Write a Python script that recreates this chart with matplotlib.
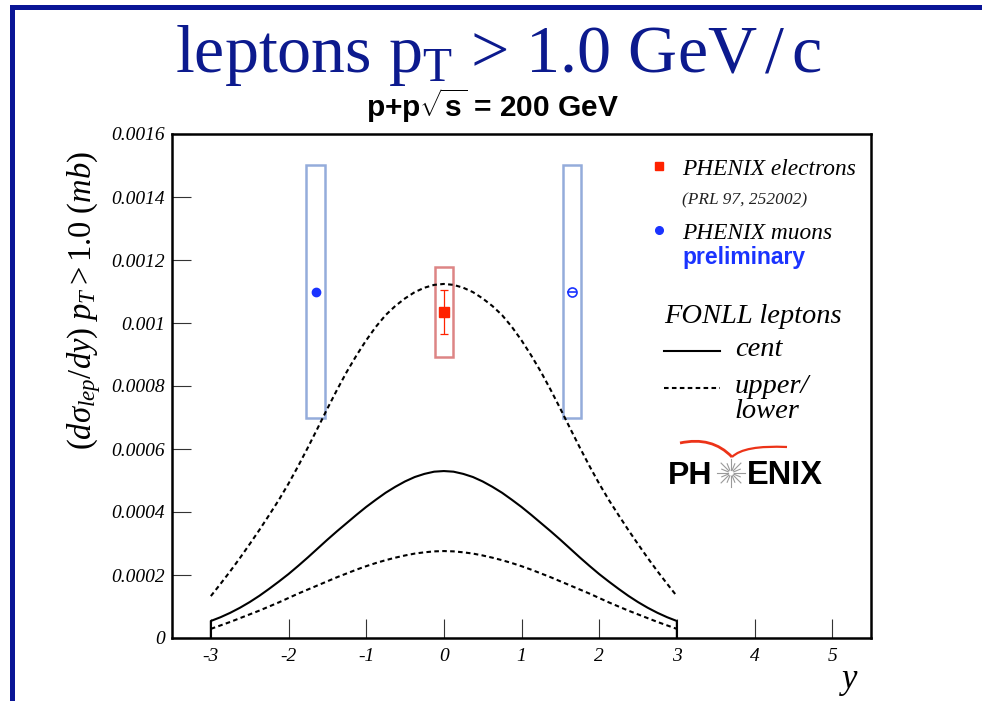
import numpy as np
import matplotlib
matplotlib.use("Agg")
import matplotlib.pyplot as plt
from matplotlib.patches import Rectangle, PathPatch
from matplotlib.path import Path
from matplotlib.lines import Line2D

plt.rcParams['mathtext.fontset'] = 'custom'
plt.rcParams['mathtext.rm'] = 'Liberation Serif'
plt.rcParams['mathtext.it'] = 'Liberation Serif:italic'
plt.rcParams['mathtext.bf'] = 'Liberation Sans:bold'

SERIF = 'Liberation Serif'
SANS = 'Liberation Sans'
TITLE_BLUE = '#0c1a8e'

# FONLL lepton curves, d(sigma)/dy in units of 1e-6 mb, vs rapidity
rap = [-3.0, -2.875, -2.75, -2.625, -2.5, -2.375, -2.25, -2.125, -2.0, -1.875, -1.75, -1.625,
       -1.5, -1.375, -1.25, -1.125, -1.0, -0.875, -0.75, -0.625, -0.5, -0.375, -0.25, -0.125,
       0.0, 0.125, 0.25, 0.375, 0.5, 0.625, 0.75, 0.875, 1.0, 1.125, 1.25, 1.375,
       1.5, 1.625, 1.75, 1.875, 2.0, 2.125, 2.25, 2.375, 2.5, 2.625, 2.75, 2.875, 3.0]
fonll_cent = [54, 66, 80, 96, 114, 134, 156, 179, 203, 229, 256, 284,
              312, 339, 365, 391, 416, 439, 461, 480, 497, 511, 521, 528,
              530, 528, 521, 511, 497, 480, 461, 439, 416, 391, 365, 339,
              312, 284, 256, 229, 203, 179, 156, 134, 114, 96, 80, 66, 54]
fonll_upper = [133, 172, 212, 254, 298, 343, 390, 438, 490, 546, 605, 666,
               728, 788, 845, 897, 945, 988, 1025, 1054, 1078, 1098, 1112, 1121,
               1124, 1121, 1112, 1098, 1078, 1054, 1025, 988, 945, 897, 845, 788,
               728, 666, 605, 546, 490, 438, 390, 343, 298, 254, 212, 172, 133]
fonll_lower = [29, 40, 51, 63, 75, 87, 100, 113, 127, 141, 154, 167,
               180, 193, 205, 217, 228, 238, 247, 255, 262, 268, 272, 275,
               276, 275, 272, 268, 262, 255, 247, 238, 228, 217, 205, 193,
               180, 167, 154, 141, 127, 113, 100, 87, 75, 63, 51, 40, 29]

# PHENIX electrons (mid rapidity)
ele_y = 0.0
ele_val = 0.001036
ele_stat = 0.00007
ele_sys_lo = 0.000891
ele_sys_hi = 0.001179

# PHENIX muons (forward / backward)
mu_y = [-1.65, 1.65]
mu_val = [0.00110, 0.00110]
mu_stat = [0.000006, 0.000006]
mu_sys_lo = [0.000697, 0.000697]
mu_sys_hi = [0.001502, 0.001502]
box_half = 0.12

x_ticks = [-3, -2, -1, 0, 1, 2, 3, 4, 5]
x_labels = ['-3', '-2', '-1', '0', '1', '2', '3', '4', '5']
y_ticks = [0, 0.0002, 0.0004, 0.0006, 0.0008, 0.001, 0.0012, 0.0014, 0.0016]
y_labels = ['0', '0.0002', '0.0004', '0.0006', '0.0008', '0.001', '0.0012', '0.0014', '0.0016']

W, H = 982, 701


def fx(px):
    return px / W


def fy(py):
    return 1 - py / H


fig = plt.figure(figsize=(W / 100, H / 100), dpi=100)
fig.patch.set_facecolor('white')

# slide border
fig.add_artist(Rectangle((fx(10), fy(10)), fx(972), 5 / H, transform=fig.transFigure,
                         color='#0a1596', lw=0))
fig.add_artist(Rectangle((fx(10), 0), fx(5), fy(5), transform=fig.transFigure,
                         color='#0a1596', lw=0))

fig.text(fx(498), fy(72), r'leptons $\mathrm{p_T}$ > 1.0 GeV$\,$/$\,$c', ha='center',
         va='baseline', fontsize=49, family=SERIF, color=TITLE_BLUE)
fig.text(fx(492), fy(117), r'p+p$\sqrt{\mathbf{s}}$ = 200 GeV', ha='center', va='baseline',
         fontsize=21.5, family=SANS, weight='bold', color='black')

ax = fig.add_axes([fx(172), fy(638), fx(871) - fx(172), fy(134) - fy(638)])

rap = np.array(rap)
cent = np.array(fonll_cent) * 1e-6
upper = np.array(fonll_upper) * 1e-6
lower = np.array(fonll_lower) * 1e-6

dash = (0, (2.2, 1.6))
# central curve drawn like a histogram outline, dropping to zero at the edges
ax.plot(np.r_[rap[0], rap, rap[-1]], np.r_[0, cent, 0], color='black', lw=1.5)
ax.plot(rap, upper, color='black', lw=1.5, ls=dash)
ax.plot(rap, lower, color='black', lw=1.5, ls=dash)

# systematic boxes
ax.add_patch(Rectangle((ele_y - box_half, ele_sys_lo), 2 * box_half, ele_sys_hi - ele_sys_lo,
                       fill=False, ec='#dd8585', lw=1.8))
for y0, lo, hi in zip(mu_y, mu_sys_lo, mu_sys_hi):
    ax.add_patch(Rectangle((y0 - box_half, lo), 2 * box_half, hi - lo,
                           fill=False, ec='#94acdb', lw=1.8))

ax.errorbar([ele_y], [ele_val], yerr=[ele_stat], fmt='s', color='#ff2200', ms=6.5,
            elinewidth=0.9, capsize=3, capthick=0.9)
ax.errorbar([mu_y[0]], [mu_val[0]], yerr=[mu_stat[0]], fmt='o', color='#1a33ff', ms=6,
            elinewidth=1, capsize=2.5, capthick=1)
ax.plot([mu_y[1]], [mu_val[1]], 'o', color='#1a33ff', mfc='white', ms=6.5, mew=1.2)
ax.plot([mu_y[1]], [mu_val[1]], '_', color='#1a33ff', ms=6.5, mew=1.2)

ax.set_xlim(-3.5, 5.5)
ax.set_ylim(0, 0.0016)
ax.set_xticks(x_ticks)
ax.set_xticklabels(x_labels, family=SERIF, style='italic', fontsize=14)
ax.set_yticks(y_ticks)
ax.set_yticklabels(y_labels, family=SERIF, style='italic', fontsize=14)
ax.tick_params(direction='in', length=14, width=0.8, color='#333333')
ax.tick_params(axis='x', pad=7)
ax.tick_params(axis='y', pad=5)
for s in ax.spines.values():
    s.set_linewidth(1.8)

fig.text(fx(84), fy(300), r'$\mathit{(d\sigma_{lep}/dy)\ p_{T} > 1.0\ (mb)}$', rotation=90,
         ha='center', va='center', fontsize=23.5)
fig.text(fx(850), fy(680), 'y', ha='center', va='center', family=SERIF, style='italic', fontsize=25)

# legend block
t = ax.transAxes
ax.plot([0.6967], [0.9365], 's', color='#ff2200', ms=6, transform=t, clip_on=False)
ax.text(0.7296, 0.9187, 'PHENIX electrons', transform=t, family=SERIF, style='italic',
        fontsize=16.8, va='baseline')
ax.text(0.7296, 0.861, '(PRL 97, 252002)', transform=t, family=SERIF, style='italic',
        fontsize=12.5, va='baseline', color='#222222')
ax.plot([0.6967], [0.8095], 'o', color='#1a33ff', ms=5.5, transform=t, clip_on=False)
ax.text(0.7296, 0.7917, 'PHENIX muons', transform=t, family=SERIF, style='italic',
        fontsize=16.8, va='baseline')
ax.text(0.7296, 0.742, 'preliminary', transform=t, family=SANS, weight='bold',
        fontsize=16.5, va='baseline', color='#1a33ff')
ax.text(0.7039, 0.625, 'FONLL leptons', transform=t, family=SERIF, style='italic',
        fontsize=20.5, va='baseline')
ax.add_line(Line2D([0.7039, 0.784], [0.5694, 0.5694], color='black', lw=1.5, transform=t))
ax.text(0.8054, 0.5595, 'cent', transform=t, family=SERIF, style='italic',
        fontsize=20.5, va='baseline')
ax.add_line(Line2D([0.7039, 0.784], [0.496, 0.496], color='black', lw=1.5,
                   ls=dash, transform=t))
ax.text(0.8054, 0.486, 'upper/', transform=t, family=SERIF, style='italic',
        fontsize=20.5, va='baseline')
ax.text(0.8054, 0.4365, 'lower', transform=t, family=SERIF, style='italic',
        fontsize=20.5, va='baseline')

# PHENIX logo
fig.text(fx(668), fy(484), 'PH', family=SANS, weight='bold', fontsize=23, va='baseline')
fig.text(fx(747), fy(484), 'ENIX', family=SANS, weight='bold', fontsize=23.5, va='baseline')
cx, cy = 731, 473
for k in range(16):
    a = np.pi * 2 * k / 16
    r = 14 if k % 2 == 0 else 10
    fig.add_artist(Line2D([fx(cx + 3 * np.cos(a)), fx(cx + r * np.cos(a))],
                          [fy(cy + 3 * np.sin(a)), fy(cy + r * np.sin(a))],
                          transform=fig.transFigure, color='#9a9a9a', lw=0.8))
left_arm = Path([(fx(680), fy(443)), (fx(712), fy(436)), (fx(732), fy(457))],
                [Path.MOVETO, Path.CURVE3, Path.CURVE3])
right_arm = Path([(fx(732), fy(457)), (fx(744), fy(445)), (fx(787), fy(447))],
                 [Path.MOVETO, Path.CURVE3, Path.CURVE3])
fig.add_artist(PathPatch(left_arm, fill=False, ec='#ec3318', lw=2, transform=fig.transFigure))
fig.add_artist(PathPatch(right_arm, fill=False, ec='#ec3318', lw=1.6, transform=fig.transFigure))

fig.savefig('out.png', dpi=100)
